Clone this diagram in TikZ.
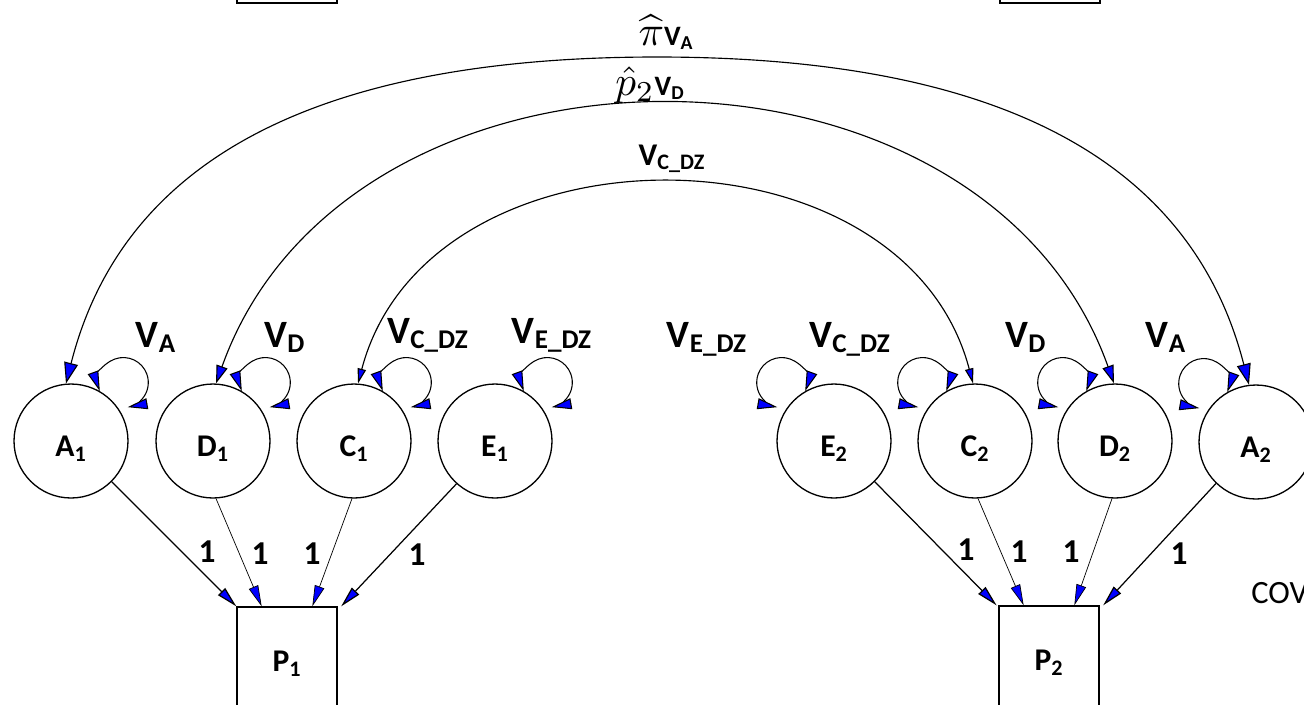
\documentclass[tikz,border=0pt]{standalone}
\usepackage{amsmath}
\usepackage{fontspec}
\setmainfont{Carlito}
\usetikzlibrary{arrows.meta, calc}

\begin{document}
\begin{tikzpicture}[x=0.02cm, y=-0.02cm,
        lat/.style={circle, draw, line width=0.75pt, minimum size=2.28cm, inner sep=0pt, text height=18pt, text depth=0pt, font=\fontsize{18}{20}\selectfont\bfseries},
        obs/.style={rectangle, draw, line width=0.75pt, minimum width=2cm, minimum height=2.28cm, font=\fontsize{18}{20}\selectfont\bfseries},
        vlab/.style={anchor=base, inner sep=0pt, font=\fontsize{22}{24}\selectfont\bfseries},
        fixlbl/.style={inner sep=0pt, font=\fontsize{19}{22}\selectfont\bfseries},
        selfloop/.style={<->, line width=0.6pt, >={Triangle[length=0.4cm, width=0.22cm, fill=blue]}},
        covarc/.style 2 args={<->, line width=0.65pt, >={Triangle[length=#1, width=#2, fill=blue]}},
        loadthick/.style={->, line width=0.7pt, >={Triangle[length=0.42cm, width=0.2cm, fill=blue]}},
        loadthin/.style={->, line width=0.4pt, >={Triangle[length=0.42cm, width=0.2cm, fill=blue]}}]

    \useasboundingbox (0,0) rectangle (1304,704);
    \clip (0,0) rectangle (1304,704);

    % latent factors
    \node[lat] (A1) at (71,441) {A\textsubscript{1}};
    \node[lat] (D1) at (213,441) {D\textsubscript{1}};
    \node[lat] (C1) at (354,441) {C\textsubscript{1}};
    \node[lat] (E1) at (495,441) {E\textsubscript{1}};
    \node[lat] (E2) at (834,441) {E\textsubscript{2}};
    \node[lat] (C2) at (975,441) {C\textsubscript{2}};
    \node[lat] (D2) at (1115,441) {D\textsubscript{2}};
    \node[lat] (A2) at (1256,442) {A\textsubscript{2}};

    % phenotypes
    \node[obs] (P1) at (287,664) {P\textsubscript{1}};
    \node[obs] (P2) at (1049,663) {P\textsubscript{2}};
    \node[obs] (topL) at (287,-54) {};
    \node[obs] (topR) at (1050,-54) {};

    % covariance arcs
    \draw[covarc={0.42cm}{0.28cm}] (A1.95) .. controls (120,170) and (300,57) .. (657,57)
        .. controls (1014,57) and (1194,170) .. (A2.97);
    \draw[covarc={0.36cm}{0.23cm}] (D1.87) .. controls (348,13) and (982,13) .. (D2.91);
    \draw[covarc={0.3cm}{0.17cm}] (C1.86) .. controls (428,117) and (903,117) .. (C2.92);

    \node[anchor=base, inner sep=0pt] (covA) at (666,45)
        {\scalebox{2.4}{$\widehat{\pi}$}{\fontsize{16}{18}\selectfont\bfseries V\textsubscript{A}}};
    \node[anchor=base, inner sep=0pt] (covD) at (650,95)
        {\scalebox{2.35}{$\hat{p}_2$}{\fontsize{16}{18}\selectfont\bfseries V\textsubscript{D}}};
    \node[anchor=base, inner sep=0pt, font=\fontsize{18}{20}\selectfont\bfseries] (covC) at (672,165)
        {V\textsubscript{C\_DZ}};

    % variances
    \draw[selfloop] (A1.60) arc[start angle=200, end angle=-80, radius=0.5cm];
    \draw[selfloop] (D1.60) arc[start angle=200, end angle=-80, radius=0.5cm];
    \draw[selfloop] (C1.60) arc[start angle=200, end angle=-80, radius=0.5cm];
    \draw[selfloop] (E1.60) arc[start angle=200, end angle=-80, radius=0.5cm];
    \draw[selfloop] (E2.120) arc[start angle=-20, end angle=260, radius=0.5cm];
    \draw[selfloop] (C2.120) arc[start angle=-20, end angle=260, radius=0.5cm];
    \draw[selfloop] (D2.120) arc[start angle=-20, end angle=260, radius=0.5cm];
    \draw[selfloop] (A2.120) arc[start angle=-20, end angle=260, radius=0.5cm];

    \node[vlab] (vA1) at (156,347) {V\textsubscript{A}};
    \node[vlab] (vD1) at (285,347) {V\textsubscript{D}};
    \node[vlab] (vC1) at (428,343) {V\textsubscript{C\_DZ}};
    \node[vlab] (vE1) at (552,343) {V\textsubscript{E\_DZ}};
    \node[vlab] (vE2) at (707,347) {V\textsubscript{E\_DZ}};
    \node[vlab] (vC2) at (850,347) {V\textsubscript{C\_DZ}};
    \node[vlab] (vD2) at (1026,347) {V\textsubscript{D}};
    \node[vlab] (vA2) at (1166,347) {V\textsubscript{A}};

    % loadings
    \draw[loadthick] (A1.-45) -- (P1.north west);
    \draw[loadthin] (D1.-87) -- ($(P1.north west)!0.25!(P1.north east)$);
    \draw[loadthin] (C1.-92) -- ($(P1.north west)!0.75!(P1.north east)$);
    \draw[loadthick] (E1.-132) -- ([xshift=2pt]P1.north east);
    \draw[loadthick] (E2.-45) -- ([xshift=-1pt]P2.north west);
    \draw[loadthin] (C2.-87) -- ($(P2.north west)!0.25!(P2.north east)$);
    \draw[loadthin] (D2.-93) -- ($(P2.north west)!0.75!(P2.north east)$);
    \draw[loadthick] (A2.-134) -- ([xshift=2pt]P2.north east);

    \node[fixlbl] (fA1) at (207,552) {1};
    \node[fixlbl] (fD1) at (260,554) {1};
    \node[fixlbl] (fC1) at (312,554) {1};
    \node[fixlbl] (fE1) at (417,555) {1};
    \node[fixlbl] (fE2) at (966,550) {1};
    \node[fixlbl] (fC2) at (1019,552) {1};
    \node[fixlbl] (fD2) at (1071,552) {1};
    \node[fixlbl] (fA2) at (1179,554) {1};

    \node[anchor=west, inner sep=0pt, font=\fontsize{18.5}{22}\selectfont] (cov) at (1251,593) {COV};
\end{tikzpicture}
\end{document}
